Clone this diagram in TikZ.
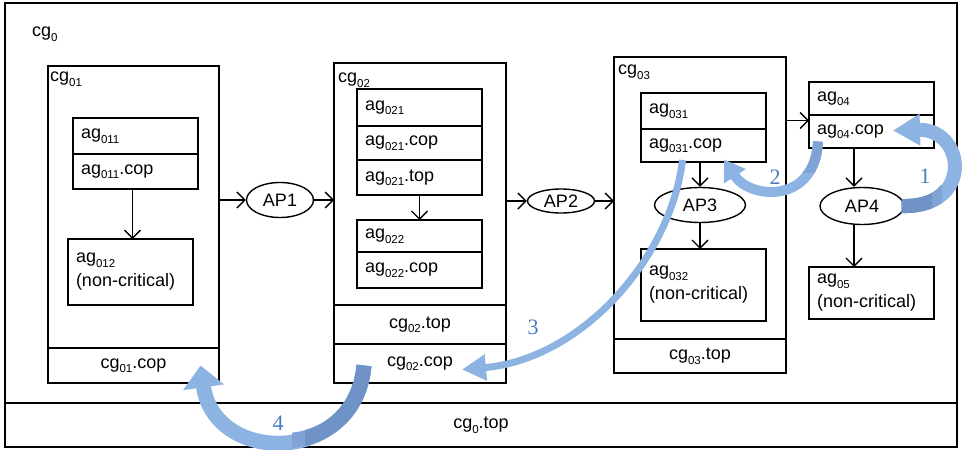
\documentclass[tikz,border=0pt]{standalone}
\usepackage{fontspec}
\setmainfont{Liberation Sans}
\newfontfamily\numfont{Liberation Serif}
\usetikzlibrary{shapes.geometric,arrows.meta,calc}
\newcommand\boxfont{\fontsize{18}{24}\selectfont}
\newcommand\lo[1]{\raisebox{-0.25em}{\fontsize{11.5}{12}\selectfont #1}}
\definecolor{ribbon}{HTML}{8DB3E2}
\definecolor{ribbonmid}{HTML}{7EA3D4}
\definecolor{ribbondark}{HTML}{6F93C6}
\definecolor{stepnum}{HTML}{4A7EC0}
\begin{document}
\begin{tikzpicture}[x=1pt,y=-1pt,
  frame/.style={draw, line width=1.4pt, anchor=north west, inner sep=0pt, outer sep=0pt},
  cell/.style={frame, minimum width=125pt, text width=109pt, inner xsep=8pt, align=left, font=\boxfont},
  band/.style={frame, font=\boxfont},
  grouplbl/.style={anchor=north west, inner sep=0pt, font=\boxfont},
  ap/.style={draw, ellipse, line width=1.4pt, inner sep=0pt, font=\boxfont},
  flow/.style={line width=1.3pt, -{Straight Barb[length=8pt,width=16pt,line width=1.3pt]}},
  ribbonline/.style={draw=ribbon, line cap=butt},
  stepno/.style={font=\numfont\fontsize{22}{24}\selectfont, text=stepnum, inner sep=0pt}]
\useasboundingbox (0,0) rectangle (962,450);

% outer group cg0 and its top band
\node[frame, line width=1.7pt, minimum width=952pt, minimum height=444pt] (cg0) at (5,3) {};
\node[band, line width=1.7pt, minimum width=952pt, minimum height=44pt] (cg0top) at (5,403) {cg\lo{0}.top};
\node[grouplbl] (cg0lbl) at (32,27) {cg\lo{0}};

% group cg01
\node[frame, minimum width=171pt, minimum height=317pt] (cg01) at (48,66) {};
\node[band, minimum width=171pt, minimum height=35pt] (cg01cop) at (48,348) {cg\lo{01}.cop};
\node[grouplbl] (cg01lbl) at (50,72) {cg\lo{01}};
\node[cell, minimum height=36pt] (ag011) at (73,118) {ag\lo{011}};
\node[cell, minimum height=35pt] (ag011cop) at (73,154) {ag\lo{011}.cop};
\node[cell, minimum height=66pt] (ag012) at (68,239) {ag\lo{012}\\(non-critical)};

% group cg02
\node[frame, minimum width=172pt, minimum height=320pt] (cg02) at (334,63) {};
\node[band, minimum width=172pt, minimum height=39pt] (cg02top) at (334,305) {cg\lo{02}.top};
\node[band, minimum width=172pt, minimum height=39pt] (cg02cop) at (334,344) {cg\lo{02}.cop};
\node[grouplbl] (cg02lbl) at (338,73) {cg\lo{02}};
\node[cell, minimum height=37pt] (ag021) at (357,89) {ag\lo{021}};
\node[cell, minimum height=34pt] (ag021cop) at (357,126) {ag\lo{021}.cop};
\node[cell, minimum height=35pt] (ag021top) at (357,160) {ag\lo{021}.top};
\node[cell, minimum height=32pt] (ag022) at (357,220) {ag\lo{022}};
\node[cell, minimum height=36pt] (ag022cop) at (357,252) {ag\lo{022}.cop};

% group cg03
\node[frame, minimum width=172pt, minimum height=316pt] (cg03) at (614,57) {};
\node[band, minimum width=172pt, minimum height=34pt] (cg03top) at (614,339) {cg\lo{03}.top};
\node[grouplbl] (cg03lbl) at (618,65) {cg\lo{03}};
\node[cell, minimum height=36pt] (ag031) at (641,93) {ag\lo{031}};
\node[cell, minimum height=33pt] (ag031cop) at (641,129) {ag\lo{031}.cop};
\node[cell, minimum height=72pt] (ag032) at (641,249) {ag\lo{032}\\(non-critical)};

% agents outside the groups
\node[cell, minimum height=33pt] (ag04) at (809,82) {ag\lo{04}};
\node[cell, minimum height=33pt] (ag04cop) at (809,115) {ag\lo{04}.cop};
\node[cell, minimum height=52pt] (ag05) at (809,267) {ag\lo{05}\\(non-critical)};

% action points
\node[ap, minimum width=67pt, minimum height=35pt] (ap1) at (280,200) {AP1};
\node[ap, minimum width=67pt, minimum height=24pt] (ap2) at (561,201) {AP2};
\node[ap, minimum width=91pt, minimum height=35pt] (ap3) at (700,205) {AP3};
\node[ap, minimum width=84pt, minimum height=37pt] (ap4) at (862,206) {AP4};

% control flow
\draw[flow] (ap1.west -| cg01.east) -- (ap1.west);
\draw[flow] (ap1.east) -- (ap1.east -| cg02.west);
\draw[flow] (ap2.west -| cg02.east) -- (ap2.west);
\draw[flow] (ap2.east) -- (ap2.east -| cg03.west);
\coordinate (g4in) at ([yshift=11pt]ag04cop.west);
\draw[flow] (g4in -| cg03.east) -- (g4in);
\coordinate (g1down) at ([xshift=-3pt]ag011cop.south);
\draw[flow] (g1down) -- (g1down |- ag012.north);
\draw[flow] (ag021top.south) -- (ag022.north);
\draw[flow] (ap3.north |- ag031cop.south) -- (ap3.north);
\draw[flow] (ap3.south) -- (ap3.south |- ag032.north);
\coordinate (ap4top) at ([xshift=-8pt]ap4.north);
\coordinate (ap4bot) at ([xshift=-8pt]ap4.south);
\draw[flow] (ap4top |- ag04cop.south) -- (ap4top);
\draw[flow] (ap4bot) -- (ap4bot |- ag05.north);

% compensation ribbons, numbered in order
\coordinate (r1s) at ([xshift=-3pt]ap4.east);
\coordinate (r1e) at ([xshift=-41pt,yshift=1pt]ag04cop.east);
\coordinate (r2s) at ([xshift=9pt,yshift=-10pt]ag04cop.west);
\coordinate (r2e) at ([xshift=-42pt,yshift=-14pt]ag031cop.east);
\coordinate (r3s) at ([xshift=-21pt,yshift=2pt]ag031cop.south);
\coordinate (r3e) at ([xshift=-44pt,yshift=-6pt]cg02cop.east);
\coordinate (r4s) at ([xshift=-56pt,yshift=-2pt]cg02cop.center);
\coordinate (r4e) at ([xshift=67pt]cg01cop.center);
\def\ribbonone{(r1s) .. controls +(73,2) and +(72,-2) .. (r1e)}
\def\ribbontwo{(r2s) .. controls +(-3,63) and +(26,40) .. (r2e)}
\def\ribbonthree{(r3s) .. controls +(-12,100) and +(118,-10) .. (r3e)}
\def\ribbonfour{(r4s) .. controls +(-9,100) and +(14,100) .. (r4e)}

\draw[ribbonline, line width=14pt, -{Triangle[length=27pt,width=30pt]}] \ribbonone;
\begin{scope}\clip (880,185) rectangle (942,230);
  \draw[ribbonline, draw=ribbonmid, line width=14pt] \ribbonone; \end{scope}
\begin{scope}\clip (880,185) rectangle (932,230);
  \draw[ribbonline, draw=ribbondark, line width=14pt] \ribbonone; \end{scope}

\draw[ribbonline, line width=10pt, -{Triangle[length=20pt,width=25pt]}] \ribbontwo;
\begin{scope}\clip (790,130) rectangle (830,172);
  \draw[ribbonline, draw=ribbonmid, line width=10pt] \ribbontwo; \end{scope}

\draw[ribbonline, line width=7pt, -{Triangle[length=24pt,width=25pt]}] \ribbonthree;

\draw[ribbonline, line width=15pt, -{Triangle[length=22pt,width=40pt]}] \ribbonfour;
\begin{scope}\clip (292,340) rectangle (400,450);
  \draw[ribbonline, draw=ribbonmid, line width=15pt] \ribbonfour; \end{scope}
\begin{scope}\clip (305,340) rectangle (400,450);
  \draw[ribbonline, draw=ribbondark, line width=15pt] \ribbonfour; \end{scope}

\node[stepno] (n1) at (925,176) {1};
\node[stepno] (n2) at (775,177) {2};
\node[stepno] (n3) at (533,327) {3};
\node[stepno] (n4) at (278,423) {4};
\end{tikzpicture}
\end{document}
